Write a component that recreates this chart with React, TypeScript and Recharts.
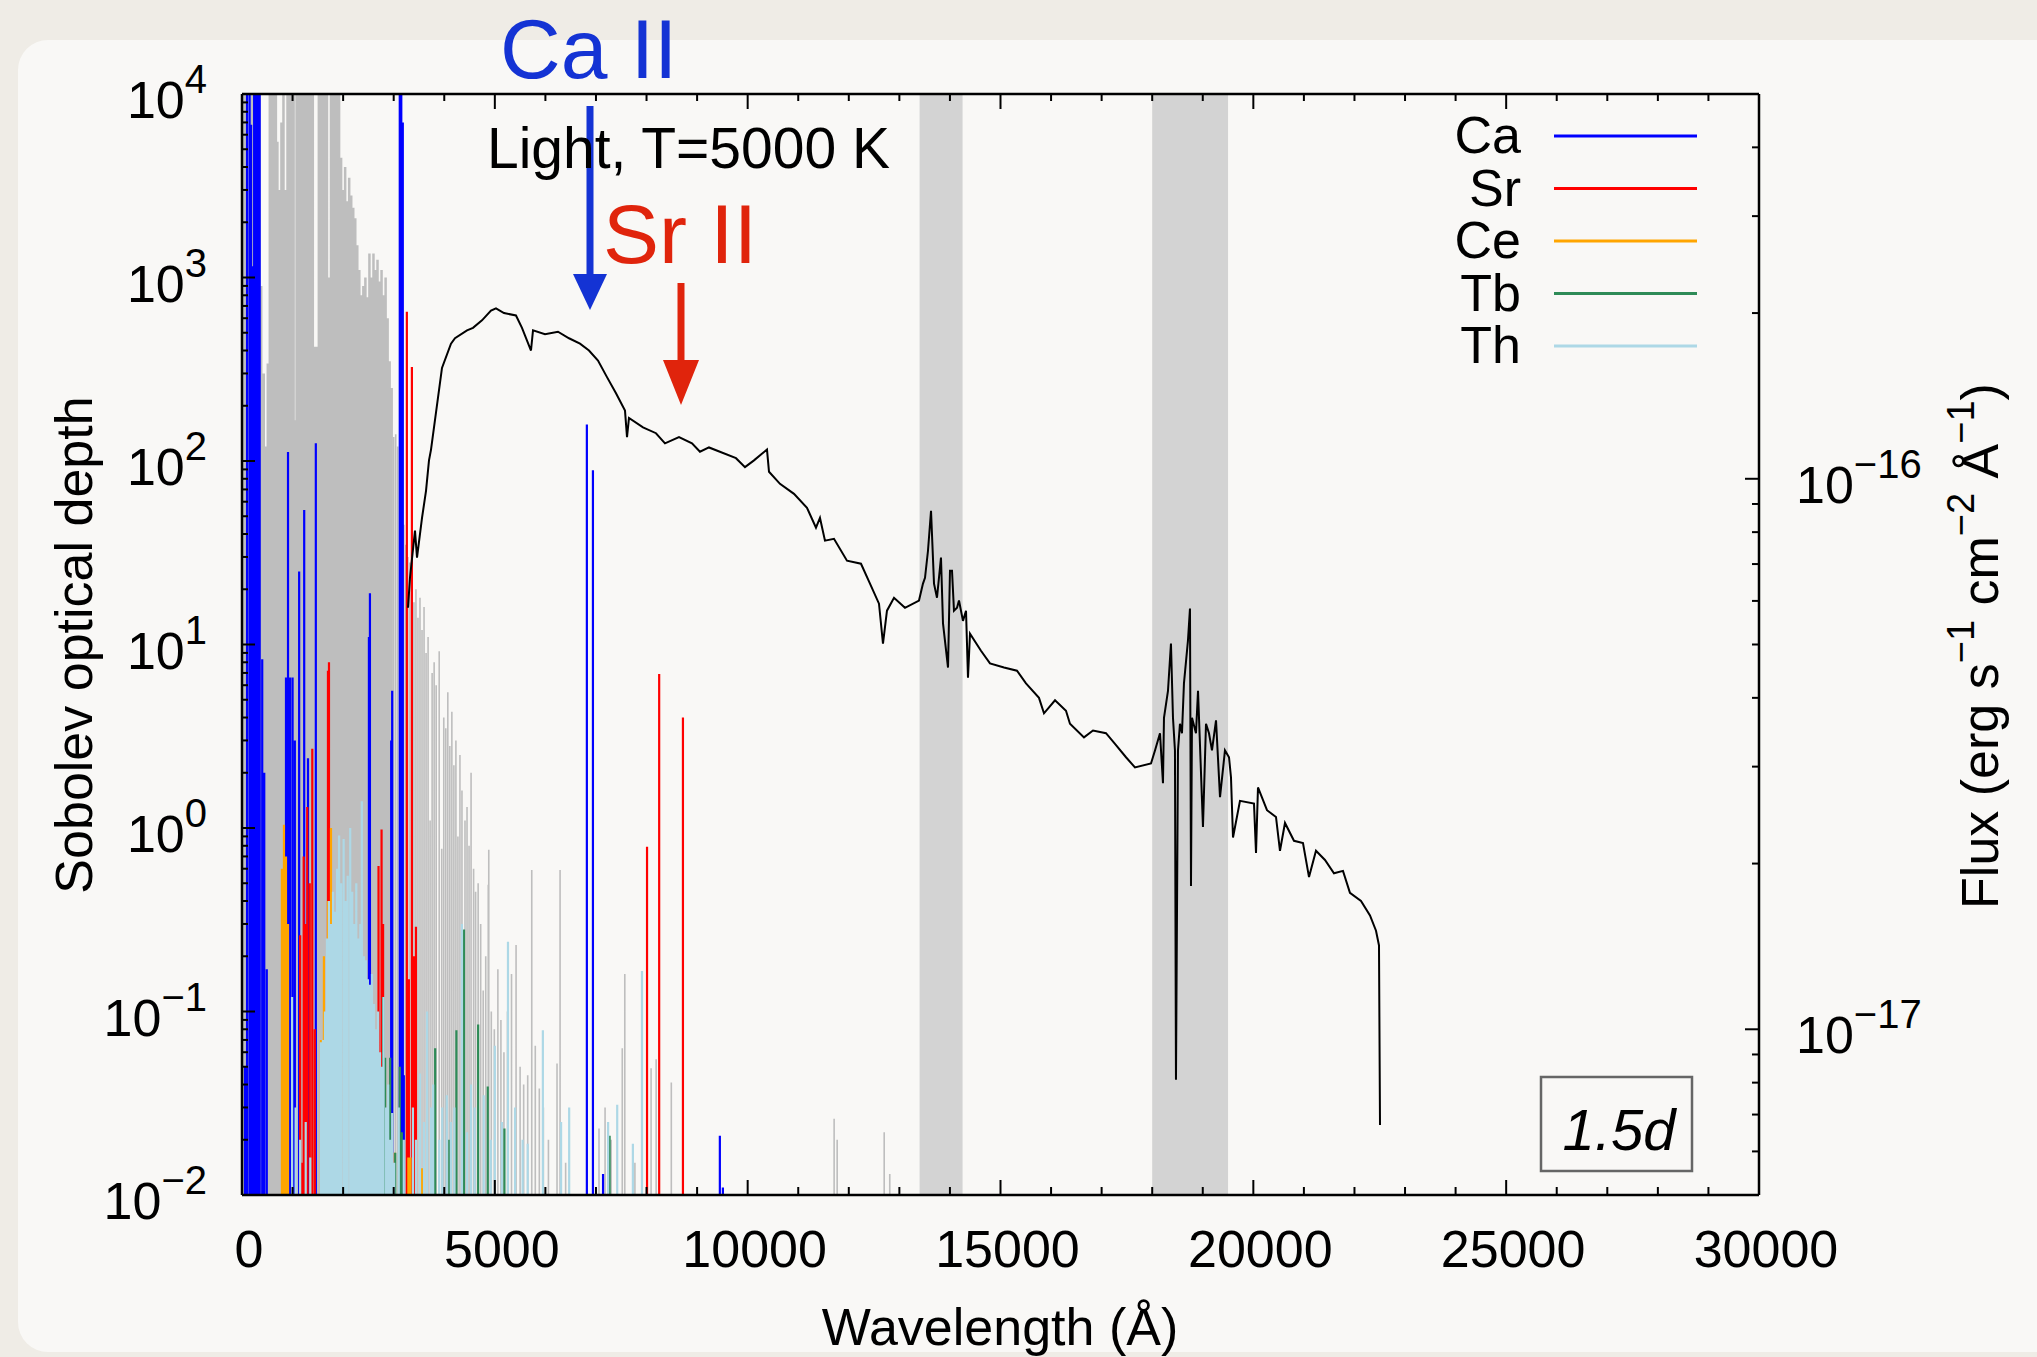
import React from 'react';
import { LineChart, Line, XAxis, YAxis, ReferenceArea } from 'recharts';

// black model spectrum: [wavelength (Å), flux in units of 1e-17 erg s^-1 cm^-2 Å^-1]
const fluxSpectrum: [number, number][] = [
  [3283, 5.83], [3322, 6.61], [3421, 8.05], [3461, 7.19], [3560, 8.49], [3639, 9.51], [3698, 10.8],
  [3738, 11.3], [3955, 15.9], [4133, 17.6], [4212, 18.0], [4450, 18.6], [4568, 18.8], [4746, 19.4],
  [4924, 20.2], [5023, 20.4], [5181, 20.0], [5418, 19.8], [5537, 18.8], [5715, 17.1], [5755, 18.6],
  [5992, 18.3], [6249, 18.5], [6467, 18.0], [6684, 17.6], [6862, 17.1], [7040, 16.4], [7218, 15.3],
  [7396, 14.3], [7574, 13.3], [7614, 11.9], [7653, 12.9], [7930, 12.4], [8187, 12.1], [8365, 11.6],
  [8642, 11.9], [8899, 11.6], [9057, 11.2], [9235, 11.4], [9769, 10.9], [9947, 10.5], [10125, 10.8],
  [10382, 11.3], [10422, 10.3], [10639, 9.79], [10916, 9.39], [11173, 8.86], [11351, 8.15],
  [11430, 8.49], [11529, 7.72], [11707, 7.78], [11964, 7.1], [12241, 7.01], [12419, 6.45],
  [12597, 5.93], [12676, 5.02], [12755, 5.76], [12894, 6.08], [13111, 5.83], [13388, 6.01],
  [13467, 6.45], [13507, 6.61], [13566, 7.4], [13626, 8.75], [13685, 6.45], [13744, 6.08],
  [13823, 7.19], [13863, 5.46], [13962, 4.54], [14001, 6.81], [14041, 6.81], [14080, 5.76],
  [14140, 5.83], [14179, 6.01], [14258, 5.52], [14318, 5.76], [14357, 4.35], [14397, 5.23],
  [14614, 4.87], [14792, 4.62], [15069, 4.54], [15326, 4.48], [15504, 4.25], [15761, 4.0],
  [15860, 3.75], [16078, 3.96], [16295, 3.79], [16374, 3.59], [16651, 3.39], [16829, 3.49],
  [17086, 3.45], [17264, 3.3], [17482, 3.12], [17659, 2.99], [17976, 3.04], [18055, 3.21],
  [18154, 3.45], [18213, 2.8], [18233, 3.68], [18312, 4.12], [18371, 5.02], [18411, 3.68],
  [18450, 3.21], [18470, 0.81], [18510, 3.21], [18549, 3.59], [18589, 3.45], [18628, 4.25],
  [18707, 5.08], [18747, 5.81], [18767, 1.82], [18787, 3.68], [18866, 3.45], [18906, 4.12],
  [19004, 2.33], [19064, 3.59], [19123, 3.45], [19182, 3.21], [19262, 3.64], [19341, 2.64],
  [19439, 3.21], [19519, 3.12], [19558, 2.87], [19598, 2.23], [19736, 2.6], [20013, 2.57],
  [20053, 2.09], [20092, 2.75], [20270, 2.5], [20448, 2.43], [20527, 2.11], [20626, 2.37],
  [20804, 2.2], [20982, 2.18], [21101, 1.89], [21239, 2.11], [21417, 2.03], [21595, 1.92],
  [21773, 1.94], [21911, 1.77], [22129, 1.71], [22307, 1.61], [22426, 1.51], [22485, 1.42],
  [22505, 0.67],
];

// Sobolev optical depth of individual lines: [wavelength (Å), tau]
const caLines = [
  [60, 0.05], [100, 3e4], [150, 3e4], [180, 6800], [200, 1150], [240, 3e4], [280, 3e4], [310, 3e4],
  [350, 3e4], [400, 8.3], [440, 2], [490, 0.17], [870, 6.6], [910, 112], [950, 6.6], [1000, 6.6],
  [1045, 3], [1130, 25], [1230, 54], [1305, 2.4], [1460, 125], [2510, 11], [2530, 19], [2950, 3],
  [2970, 5.6], [3120, 3e4], [3150, 3e4], [3180, 7000], [3200, 0.045], [6820, 158], [6940, 89],
  [7140, 0.013], [9450, 0.021], [9510, 0.011],
];
const srLines = [
  [1150, 0.26], [1190, 0.015], [1220, 0.7], [1260, 0.3], [1290, 1.3], [1340, 0.5], [1390, 2.7],
  [1440, 0.08], [1700, 7.2], [1720, 8], [2700, 0.62], [2760, 0.98], [2790, 0.3], [3260, 650],
  [3300, 0.15], [3360, 325], [3400, 0.2], [3440, 0.29], [8010, 0.79], [8250, 6.9], [8720, 4.0],
];
const ceLines = [
  [790, 0.6], [830, 1.04], [870, 0.7], [910, 0.3], [1560, 0.07], [1620, 0.2], [1700, 0.4],
  [1760, 1.0], [1800, 0.3], [2160, 0.11], [2710, 0.014], [3020, 0.017], [3290, 0.016],
  [3330, 0.016], [3560, 0.014],
];
const tbLines = [
  [2790, 0.12], [2830, 0.056], [2930, 0.056], [3030, 0.017], [3120, 0.05], [3160, 0.022],
  [3820, 0.063], [4100, 0.02], [4240, 0.079], [4390, 0.28], [4670, 0.085], [4860, 0.039],
  [5190, 0.023], [7270, 0.021],
];
const thLines = [
  [990, 0.12], [1060, 0.03], [1150, 0.02], [1260, 0.025], [1350, 0.016], [1560, 0.068], [1600, 0.07],
  [1640, 0.1], [1680, 0.25], [1720, 0.4], [1760, 0.3], [1800, 0.45], [1840, 0.35], [1880, 0.6],
  [1920, 0.91], [1960, 0.5], [2010, 0.87], [2050, 0.4], [2090, 0.55], [2140, 1.0], [2180, 0.45],
  [2220, 0.3], [2260, 0.5], [2300, 0.25], [2340, 0.3], [2370, 1.4], [2410, 0.2], [2450, 0.19],
  [2490, 0.15], [2530, 0.14], [2570, 0.16], [2610, 0.11], [2650, 0.08], [2690, 0.1], [2730, 0.06],
  [2770, 0.05], [2800, 0.12], [2850, 0.03], [2890, 0.04], [2930, 0.02], [2970, 0.028], [3010, 0.015],
  [3100, 0.03], [3200, 0.02], [3380, 0.03], [3440, 0.02], [3520, 0.046], [3600, 0.025], [3660, 0.1],
  [3740, 0.03], [3780, 0.04], [3900, 0.02], [3960, 0.03], [4050, 0.035], [4130, 0.025], [4200, 0.03],
  [4350, 0.3], [4450, 0.022], [4530, 0.04], [4600, 0.03], [4780, 0.035], [4920, 0.02], [5000, 0.065],
  [5140, 0.025], [5260, 0.24], [5400, 0.03], [5550, 0.02], [5650, 0.019], [5950, 0.079],
  [6310, 0.025], [6470, 0.03], [7240, 0.025], [7420, 0.031], [7730, 0.019], [7910, 0.166],
];
const otherLines = [
  [20, 3e4], [50, 3e4], [90, 3e4], [130, 2000], [170, 3e4], [210, 3e4], [260, 3e4], [300, 3e4],
  [340, 3e4], [380, 900], [430, 300], [470, 120], [510, 340], [550, 3e4], [590, 3e4], [630, 3e4],
  [670, 3e4], [700, 5500], [740, 3000], [780, 7000], [820, 3e4], [860, 3000], [900, 3e4], [940, 3e4],
  [980, 3e4], [1020, 3e4], [1050, 167], [1080, 3e4], [1120, 3e4], [1160, 3e4], [1200, 3e4],
  [1240, 3e4], [1280, 3e4], [1320, 3e4], [1360, 3e4], [1400, 3e4], [1440, 420], [1480, 420],
  [1520, 3e4], [1560, 3e4], [1600, 3e4], [1640, 3e4], [1680, 3e4], [1720, 1000], [1760, 3e4],
  [1800, 3e4], [1840, 3e4], [1880, 3e4], [1920, 3e4], [1960, 4500], [2000, 3000], [2040, 4000],
  [2080, 2600], [2120, 3500], [2160, 2800], [2200, 2400], [2240, 2100], [2280, 1500], [2320, 1100],
  [2360, 800], [2400, 900], [2440, 1000], [2480, 780], [2520, 1350], [2560, 1000], [2600, 1350],
  [2640, 1100], [2680, 1250], [2720, 950], [2760, 1100], [2800, 800], [2840, 1000], [2880, 600],
  [2920, 350], [2960, 250], [3000, 135], [3040, 140], [3080, 120], [3120, 90], [3160, 60], [3200, 45],
  [3240, 35], [3280, 30], [3320, 28], [3360, 22], [3400, 17], [3440, 20], [3480, 14], [3520, 18],
  [3560, 12], [3600, 16], [3640, 9], [3680, 11], [3720, 1.1], [3760, 7], [3800, 8], [3840, 6],
  [3900, 9.2], [3950, 0.77], [3990, 4], [4030, 3.5], [4070, 5.5], [4110, 2.8], [4150, 4.3],
  [4190, 2.2], [4230, 3], [4270, 0.9], [4310, 2.5], [4350, 1.6], [4410, 1.1], [4450, 1.3],
  [4490, 0.8], [4530, 2.0], [4580, 0.6], [4620, 0.45], [4670, 0.5], [4720, 0.3], [4770, 0.13],
  [4820, 0.2], [4870, 0.49], [4880, 0.76], [4930, 0.1], [4990, 0.08], [5060, 0.17], [5120, 0.09],
  [5180, 0.06], [5250, 0.1], [5330, 0.16], [5420, 0.23], [5500, 0.05], [5570, 0.04], [5650, 0.045],
  [5730, 0.59], [5800, 0.065], [5880, 0.038], [5960, 0.03], [6060, 0.02], [6230, 0.052],
  [6290, 0.59], [6400, 0.015], [7060, 0.023], [7180, 0.03], [7300, 0.02], [7520, 0.063],
  [7570, 0.16], [7770, 0.015], [8090, 0.049], [8190, 0.055], [8490, 0.041], [11710, 0.026],
  [11770, 0.02], [12700, 0.022], [12810, 0.013],
];

const telluricBands = [[13400, 14250], [18000, 19500]];

const legendItems = [
  { name: 'Ca', color: '#0000ff' },
  { name: 'Sr', color: '#ff0000' },
  { name: 'Ce', color: '#ffa500' },
  { name: 'Tb', color: '#2e8b57' },
  { name: 'Th', color: '#add8e6' },
];
const otherColor = '#bebebe';

const xTicks = Array.from({ length: 31 }, (_, i) => i * 1000);

const BASE = 0.008;
const sticks = (lines: number[][]) =>
  lines.flatMap(([x, t]) => [{ x, y: BASE }, { x, y: t }, { x, y: BASE }]);

const logTicks = (lo: number, hi: number) => {
  const out: number[] = [];
  for (let e = Math.floor(Math.log10(lo)); e <= Math.ceil(Math.log10(hi)); e++) {
    for (let m = 1; m < 10; m++) {
      const v = Number((m * Math.pow(10, e)).toPrecision(6));
      if (v >= lo * 0.999 && v <= hi * 1.001) out.push(v);
    }
  }
  return out;
};
const isDecade = (v: number) => Math.abs(Math.log10(v) - Math.round(Math.log10(v))) < 1e-6;
const expText = (e: number) => (e < 0 ? `\u2212${-e}` : `${e}`);

const LeftTick = ({ x, y, payload }: any) => {
  const major = isDecade(payload.value);
  return (
    <g>
      <line x1={x} x2={x + (major ? 13 : 6)} y1={y} y2={y} stroke="#000" strokeWidth={2} />
      {major && (
        <text x={x - 35} y={y + 24} textAnchor="end" fontSize={52} fill="#000">
          10<tspan dy={-25} fontSize={40}>{expText(Math.round(Math.log10(payload.value)))}</tspan>
        </text>
      )}
    </g>
  );
};

const RightTick = ({ x, y, payload }: any) => {
  const major = isDecade(payload.value);
  return (
    <g>
      <line x1={x} x2={x - (major ? 14 : 7)} y1={y} y2={y} stroke="#000" strokeWidth={2} />
      {major && (
        <text x={x + 37} y={y + 24} textAnchor="start" fontSize={52} fill="#000">
          10<tspan dy={-25} fontSize={40}>{expText(Math.round(Math.log10(payload.value)) - 17)}</tspan>
        </text>
      )}
    </g>
  );
};

const BottomTick = ({ x, y, payload }: any) => {
  const major = payload.value % 5000 === 0;
  return (
    <g>
      <line x1={x} x2={x} y1={y} y2={y - (major ? 15 : 8)} stroke="#000" strokeWidth={2} />
      {major && (
        <text x={x + 7} y={y + 72} textAnchor="middle" fontSize={52} fill="#000">
          {payload.value}
        </text>
      )}
    </g>
  );
};

const TopTick = ({ x, y, payload }: any) => {
  const major = payload.value % 5000 === 0;
  return <line x1={x} x2={x} y1={y} y2={y + (major ? 15 : 7)} stroke="#000" strokeWidth={2} />;
};

const axisLine = { stroke: '#000', strokeWidth: 2.5 };

const App: React.FC = () => {
  const fluxData = fluxSpectrum.map(([x, y]) => ({ x, y }));
  const series = [caLines, srLines, ceLines, tbLines, thLines];
  return (
    <div
      style={{
        position: 'absolute',
        left: 0,
        top: 0,
        width: 2037,
        height: 1357,
        background: '#efece6',
        overflow: 'hidden',
        fontFamily: '"Liberation Sans", Arial, Helvetica, sans-serif',
      }}
    >
      <div
        style={{
          position: 'absolute',
          left: 18,
          top: 40,
          width: 2080,
          height: 1312,
          borderRadius: 30,
          background: '#f9f8f6',
        }}
      />
      <div style={{ position: 'absolute', left: 0, top: 0 }}>
        <LineChart width={2037} height={1357} margin={{ top: 93, right: 0, bottom: 0, left: 0 }}>
          <XAxis
            dataKey="x"
            type="number"
            domain={[0, 30000]}
            ticks={xTicks}
            interval={0}
            allowDataOverflow
            height={162}
            axisLine={axisLine}
            tickLine={false}
            tickSize={0}
            tickMargin={0}
            tick={<BottomTick />}
          />
          <XAxis
            xAxisId="top"
            orientation="top"
            dataKey="x"
            type="number"
            domain={[0, 30000]}
            ticks={xTicks}
            interval={0}
            allowDataOverflow
            height={1}
            axisLine={axisLine}
            tickLine={false}
            tickSize={0}
            tickMargin={0}
            tick={<TopTick />}
          />
          <YAxis
            scale="log"
            type="number"
            domain={[0.01, 10000]}
            ticks={logTicks(0.01, 10000)}
            interval={0}
            allowDataOverflow
            width={242}
            axisLine={axisLine}
            tickLine={false}
            tickSize={0}
            tickMargin={0}
            tick={<LeftTick />}
          />
          <YAxis
            yAxisId="flux"
            orientation="right"
            scale="log"
            type="number"
            domain={[0.5, 50]}
            ticks={logTicks(0.5, 50)}
            interval={0}
            allowDataOverflow
            width={278}
            axisLine={axisLine}
            tickLine={false}
            tickSize={0}
            tickMargin={0}
            tick={<RightTick />}
          />
          {telluricBands.map(([a, b]) => (
            <ReferenceArea key={a} x1={a} x2={b} fill="#d3d3d3" fillOpacity={1} stroke="none" />
          ))}
          <Line
            xAxisId="top"
            data={sticks(otherLines.filter((l) => l[0] < 3000))}
            dataKey="y"
            stroke={otherColor}
            strokeWidth={2.5}
            dot={false}
            activeDot={false}
            isAnimationActive={false}
          />
          <Line
            xAxisId="top"
            data={sticks(otherLines.filter((l) => l[0] >= 3000))}
            dataKey="y"
            stroke={otherColor}
            strokeWidth={1.6}
            dot={false}
            activeDot={false}
            isAnimationActive={false}
          />
          {series.map((lines, i) => (
            <Line
              key={legendItems[i].name}
              data={sticks(lines)}
              dataKey="y"
              stroke={legendItems[i].color}
              strokeWidth={2.2}
              dot={false}
              activeDot={false}
              isAnimationActive={false}
            />
          ))}
          <Line
            yAxisId="flux"
            data={fluxData}
            dataKey="y"
            stroke="#000"
            strokeWidth={2}
            dot={false}
            activeDot={false}
            isAnimationActive={false}
          />
        </LineChart>
      </div>
      <svg
        width={2037}
        height={1357}
        style={{ position: 'absolute', left: 0, top: 0, pointerEvents: 'none' }}
      >
        <text x={500} y={78} fontSize={84} fill="#1433d4">Ca II</text>
        <line x1={590} x2={590} y1={106} y2={280} stroke="#1433d4" strokeWidth={7} />
        <polygon points="573,274 607,274 590,310" fill="#1433d4" />
        <text x={487} y={168} fontSize={57} fill="#000">Light, T=5000 K</text>
        <text x={603} y={263} fontSize={84} fill="#e0240c">Sr II</text>
        <line x1={681} x2={681} y1={283} y2={365} stroke="#e0240c" strokeWidth={7} />
        <polygon points="663,360 699,360 681,405" fill="#e0240c" />

        {legendItems.map((it, i) => (
          <g key={it.name}>
            <text x={1521} y={153 + i * 52.5} textAnchor="end" fontSize={52} fill="#000">
              {it.name}
            </text>
            <line
              x1={1554}
              x2={1697}
              y1={136 + i * 52.5}
              y2={136 + i * 52.5}
              stroke={it.color}
              strokeWidth={3}
            />
          </g>
        ))}

        <rect x={1541} y={1077} width={151} height={94} fill="none" stroke="#666" strokeWidth={2.5} />
        <text x={1619} y={1150} textAnchor="middle" fontSize={58} fontStyle="italic" fill="#000">
          1.5d
        </text>

        <text x={1000} y={1345} textAnchor="middle" fontSize={52} fill="#000">
          Wavelength (Å)
        </text>
        <text x={92} y={645} textAnchor="middle" fontSize={52} fill="#000" transform="rotate(-90 92 645)">
          Sobolev optical depth
        </text>
        <text x={1998} y={646} textAnchor="middle" fontSize={52} fill="#000" transform="rotate(-90 1998 646)">
          Flux (erg s<tspan dy={-24} fontSize={38}>{'\u22121'}</tspan>
          <tspan dy={24}> cm</tspan>
          <tspan dy={-24} fontSize={38}>{'\u22122'}</tspan>
          <tspan dy={24}> Å</tspan>
          <tspan dy={-24} fontSize={38}>{'\u22121'}</tspan>
          <tspan dy={24}>)</tspan>
        </text>
      </svg>
    </div>
  );
};

export default App;
